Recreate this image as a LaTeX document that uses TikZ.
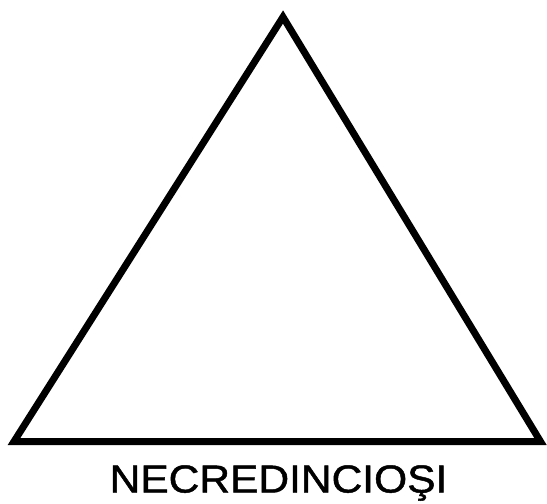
\documentclass[tikz,border=0pt]{standalone}
\usepackage{fontspec}
\setmainfont{Liberation Sans}
\newfontfamily\scanfont[FakeBold=1.2]{Liberation Sans}
\usetikzlibrary{calc}

\begin{document}
\begin{tikzpicture}[
  x=1pt,y=-1pt,
  edge/.style={line width=7pt,line join=miter,miter limit=10},
  caption/.style={font=\scanfont\fontsize{39}{44}\selectfont,anchor=base,inner sep=0pt,xscale=1.09}
]
\useasboundingbox (0,0) rectangle (547,504);
\coordinate (apex) at (283,17);
\coordinate (bl) at (14,441.5);
\coordinate (br) at (540.5,441.5);
\draw[edge] (apex) -- (br) -- (bl) -- cycle;
\node[caption] (unbelievers) at (278.5,492.5) {NECREDINCIOŞI};
\end{tikzpicture}
\end{document}
